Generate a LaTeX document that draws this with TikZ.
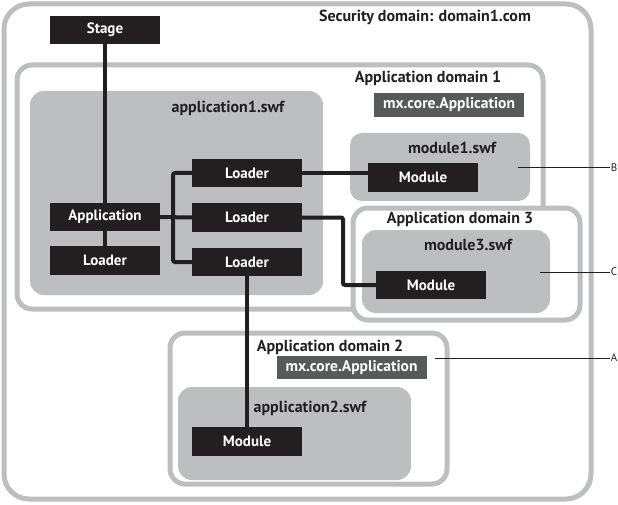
\documentclass[tikz,border=0pt]{standalone}
\usepackage{fontspec}
\setmainfont{PT Sans}
\definecolor{framegray}{RGB}{188,190,192}
\definecolor{swfgray}{RGB}{189,190,192}
\definecolor{classgray}{RGB}{88,89,91}
\definecolor{ink}{RGB}{35,31,32}

\begin{document}
\begin{tikzpicture}[x=1pt, y=-1pt,
    frame/.style={draw=framegray, line width=5pt, rounded corners=15pt},
    swf/.style={fill=swfgray, rounded corners=14pt},
    obj/.style={fill=ink, text=white, font=\bfseries\fontsize{15}{17}\selectfont, minimum width=110pt, minimum height=28.5pt, inner sep=0pt},
    cls/.style={fill=classgray, text=white, font=\bfseries\fontsize{15.5}{17}\selectfont, minimum width=150pt, minimum height=23.5pt, inner sep=0pt},
    title/.style={text=ink, font=\bfseries\fontsize{16}{18}\selectfont, inner sep=0pt},
    wire/.style={draw=ink, line width=4pt, rounded corners=2pt},
    callout/.style={draw=ink, line width=1pt},
    tag/.style={text=ink, font=\fontsize{11}{12}\selectfont, inner sep=1pt}]
            \useasboundingbox (0,0) rectangle (618,505);

            % domains
            \draw[frame, rounded corners=25pt] (4,4) rectangle (591,499);
            \draw[frame] (17,65) rectangle (543,309);
            \fill[swf] (30,91) rectangle (323,295);
            \fill[swf, rounded corners=12pt] (350,133) rectangle (530,201);
            \filldraw[frame, fill=white] (353,208) rectangle (580,320);
            \fill[swf] (362,230) rectangle (550,313);
            \filldraw[frame, fill=white] (170,333) rectangle (447,484);
            \fill[swf] (178,387) rectangle (411,480);

            \node[title] (secdom) at (425,17) {Security domain: domain1.com};
            \node[title] (appdom1) at (428,78) {Application domain 1};
            \node[title] (appdom3) at (460,219) {Application domain 3};
            \node[title] (appdom2) at (330,347) {Application domain 2};
            \node[title] (app1swf) at (228,108) {application1.swf};
            \node[title] (mod1swf) at (452,148) {module1.swf};
            \node[title] (mod3swf) at (468,245) {module3.swf};
            \node[title] (app2swf) at (310,408) {application2.swf};

            \node[cls] (mxcore1) at (449,105) {mx.core.Application};
            \node[cls] (mxcore2) at (351.5,367.5) {mx.core.Application};

            % display objects
            \node[obj] (stage) at (105,30) {Stage};
            \node[obj] (app) at (105,217) {Application};
            \node[obj] (ldr) at (105,260.5) {Loader};
            \node[obj] (ldr1) at (247,173) {Loader};
            \node[obj] (ldr2) at (247,217.5) {Loader};
            \node[obj] (ldr3) at (247,262) {Loader};
            \node[obj] (mod1) at (423,177.5) {Module};
            \node[obj] (mod3) at (431,285) {Module};
            \node[obj] (mod2) at (247,441.5) {Module};

            \coordinate (bar) at (173,217);
            \coordinate (bend) at (343,0);

            \draw[wire] (stage.south) -- (app.north);
            \draw[wire] (app.south) -- (ldr.north);
            \draw[wire] (app.east) -- (ldr2.west);
            \draw[wire] (ldr1.west) -| (bar) |- (ldr3.west);
            \draw[wire] (ldr1.east) -- (ldr1.east -| mod1.west);
            \draw[wire] (ldr2.east) -| (bend |- mod3.west) -- (mod3.west);
            \draw[wire] (ldr3.south) -- (mod2.north);

            % callouts
            \node[tag] (tagB) at (614,168) {B};
            \node[tag] (tagC) at (614,272) {C};
            \node[tag] (tagA) at (614,358) {A};
            \coordinate (fromB) at (518,168);
            \coordinate (fromC) at (540,272);
            \coordinate (fromA) at (435,358);
            \draw[callout] (fromB) -- (tagB.west);
            \draw[callout] (fromC) -- (tagC.west);
            \draw[callout] (fromA) -- (tagA.west);
        \end{tikzpicture}
\end{document}
